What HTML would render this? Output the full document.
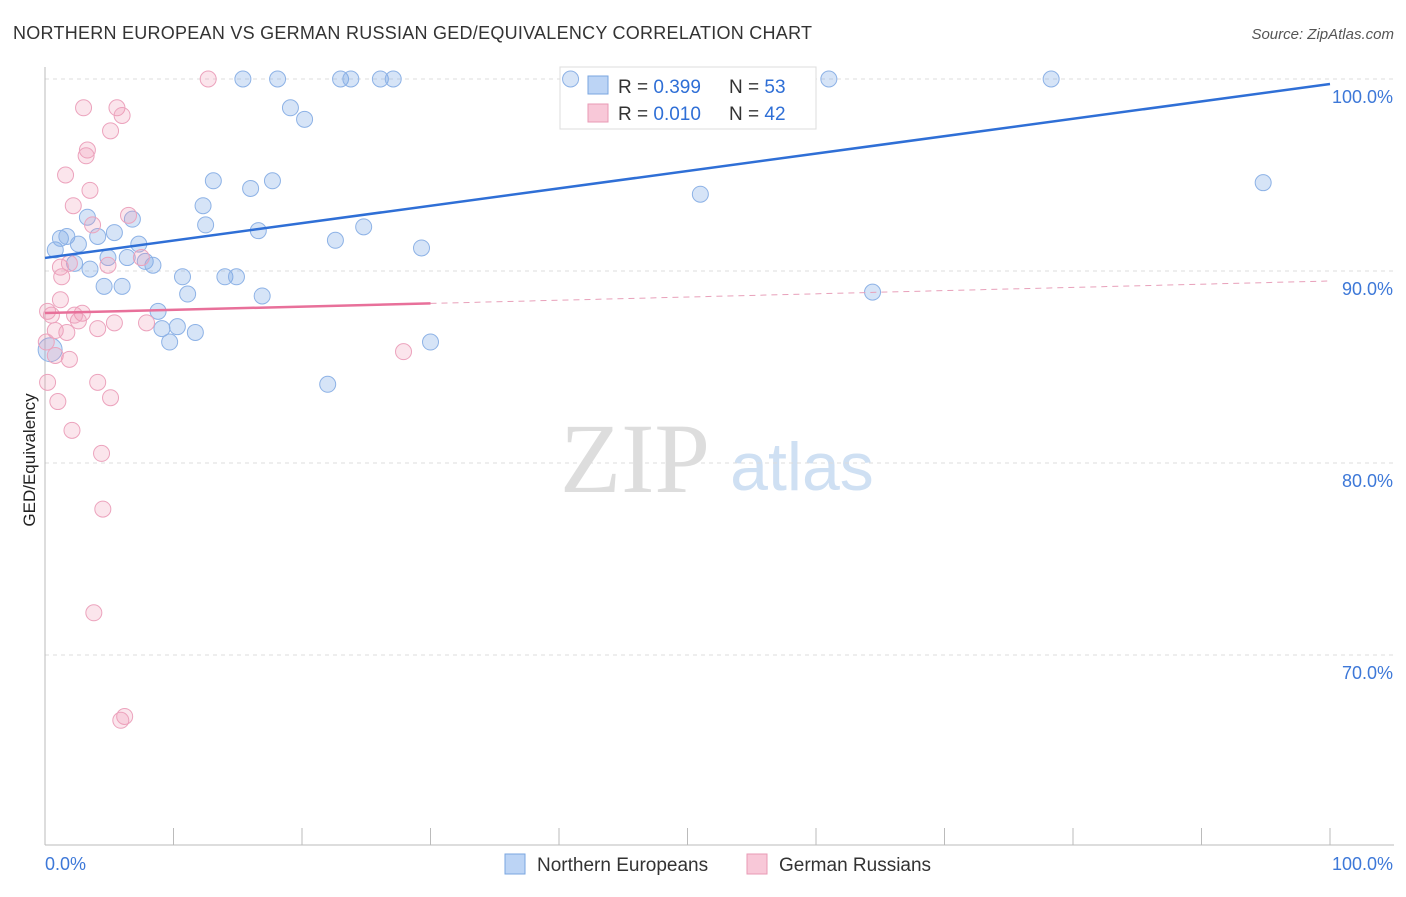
<!DOCTYPE html>
<html><head><meta charset="utf-8"><style>
body{margin:0;background:#fff;font-family:"Liberation Sans",sans-serif}
svg text{font-family:"Liberation Sans",sans-serif}
</style></head><body>
<svg id="chart" width="1406" height="892">
<text x="13" y="39" font-size="18" fill="#333" textLength="799">NORTHERN EUROPEAN VS GERMAN RUSSIAN GED/EQUIVALENCY CORRELATION CHART</text>
<text x="1394" y="39" font-size="15" fill="#555" font-style="italic" text-anchor="end">Source: ZipAtlas.com</text>
<text x="35" y="460" font-size="17" fill="#222" transform="rotate(-90 35 460)" text-anchor="middle">GED/Equivalency</text>
<text x="635" y="492" font-size="100" fill="#ddd" style="font-family:'Liberation Serif',serif" text-anchor="middle">ZIP</text>
<text x="802" y="490" font-size="68" fill="#cfe0f3" text-anchor="middle">atlas</text>
<g id="grid"></g><g id="axes"></g>
<g>
<rect x="560" y="67" width="256" height="62" fill="#fff" stroke="#ddd"/>
<rect x="588" y="76" width="20" height="18" fill="#bcd4f5" stroke="#7aa6e0"/>
<text x="618" y="93" font-size="19" fill="#333">R = <tspan fill="#2f6fd6">0.399</tspan></text>
<text x="729" y="93" font-size="19" fill="#333">N = <tspan fill="#2f6fd6">53</tspan></text>
<rect x="588" y="104" width="20" height="18" fill="#f8c8d8" stroke="#e89ab5"/>
<text x="618" y="120" font-size="19" fill="#333">R = <tspan fill="#2f6fd6">0.010</tspan></text>
<text x="729" y="120" font-size="19" fill="#333">N = <tspan fill="#2f6fd6">42</tspan></text>
</g>
<g id="pts"></g><g id="lines"></g>
<g>
<rect x="505" y="854" width="20" height="20" fill="#bcd4f5" stroke="#7aa6e0"/>
<text x="537" y="871" font-size="19" fill="#333">Northern Europeans</text>
<rect x="747" y="854" width="20" height="20" fill="#f8c8d8" stroke="#e89ab5"/>
<text x="779" y="871" font-size="19" fill="#333">German Russians</text>
</g>
</svg>
<script>
const yTicks=[100,90,80,70];
const xTickLabels=["0.0%","100.0%"];
const blueX=[15.4,18.1,23.0,23.8,26.1,27.1,40.9,61.0,78.3,19.1,20.2,13.1,17.7,16.0,12.3,12.5,3.3,6.8,16.6,24.8,22.6,29.3,0.8,1.2,1.7,2.6,4.1,5.4,7.3,4.9,6.4,7.8,8.4,2.3,3.5,10.7,14.0,14.9,4.6,6.0,11.1,16.9,8.8,9.1,10.3,9.7,11.7,30.0,22.0,51.0,94.8,64.4,0.4];
const blueY=[100,100,100,100,100,100,100,100,100,98.5,97.9,94.7,94.7,94.3,93.4,92.4,92.8,92.7,92.1,92.3,91.6,91.2,91.1,91.7,91.8,91.4,91.8,92.0,91.4,90.7,90.7,90.5,90.3,90.4,90.1,89.7,89.7,89.7,89.2,89.2,88.8,88.7,87.9,87.0,87.1,86.3,86.8,86.3,84.1,94.0,94.6,88.9,85.9];
const pinkX=[12.7,3.0,5.6,6.0,5.1,3.3,3.2,1.6,3.5,2.2,6.5,3.7,1.2,4.9,1.9,1.3,7.5,1.2,0.2,0.5,2.9,2.6,2.3,4.1,5.4,7.9,1.7,0.8,0.8,1.9,27.9,0.2,4.1,1.0,5.1,2.1,4.4,4.5,3.8,6.2,5.9,0.1];
const pinkY=[100,98.5,98.5,98.1,97.3,96.3,96.0,95.0,94.2,93.4,92.9,92.4,90.2,90.3,90.4,89.7,90.7,88.5,87.9,87.7,87.8,87.4,87.7,87.0,87.3,87.3,86.8,86.9,85.6,85.4,85.8,84.2,84.2,83.2,83.4,81.7,80.5,77.6,72.2,66.8,66.6,86.3];
const blueFit=[90.68,99.74];
const pinkFit=[87.81,89.48];
const NS="http://www.w3.org/2000/svg";
const sx=v=>45+v*12.85, sy=v=>79+(100-v)*19.2;
function mk(t,a,p){const e=document.createElementNS(NS,t);for(const k in a)e.setAttribute(k,a[k]);document.getElementById(p).appendChild(e);return e;}
yTicks.forEach(v=>{
 const l=mk('line',{x1:45,x2:1394,y1:sy(v),y2:sy(v),stroke:'#ddd','stroke-dasharray':'4,4'},'grid');
 
 
 const t=mk('text',{x:1393,y:sy(v)+24,'font-size':18,fill:'#3d78d8','text-anchor':'end'},'grid');
 t.textContent=v.toFixed(1)+'%';
 
 
});
let ax=mk('line',{x1:45,x2:1394,y1:845,y2:845,stroke:'#bbb'},'axes');


let ay=mk('line',{x1:45,x2:45,y1:67,y2:845,stroke:'#bbb'},'axes');


for(let i=0;i<=10;i++){const tk=mk('line',{x1:sx(i*10),x2:sx(i*10),y1:828,y2:845,stroke:'#bbb'},'axes');
 
 }
xTickLabels.forEach((s,i)=>{const t=mk('text',{x:i?1393:45,y:870,'font-size':18,fill:'#3d78d8','text-anchor':i?'end':'start'},'axes');t.textContent=s;
 
 });
blueX.forEach((x,i)=>{const c=mk('circle',{cx:sx(x),cy:sy(blueY[i]),r:i==52?12:8,fill:'rgba(120,165,230,0.3)',stroke:'#8db2e6'},'pts');
 
 });
pinkX.forEach((x,i)=>{const c=mk('circle',{cx:sx(x),cy:sy(pinkY[i]),r:8,fill:'rgba(240,150,180,0.25)',stroke:'#eca3bd'},'pts');
 
 });
const bl=mk('line',{x1:sx(0),y1:sy(blueFit[0]),x2:sx(100),y2:sy(blueFit[1]),stroke:'#2f6fd6','stroke-width':2.5},'lines');


const pm=v=>pinkFit[0]+(pinkFit[1]-pinkFit[0])*v/100;
const pl=mk('line',{x1:sx(0),y1:sy(pm(0)),x2:sx(30),y2:sy(pm(30)),stroke:'#e8709a','stroke-width':2.5},'lines');


const pd=mk('line',{x1:sx(30),y1:sy(pm(30)),x2:sx(100),y2:sy(pm(100)),stroke:'#e8a0ba','stroke-width':1,'stroke-dasharray':'6,5'},'lines');


</script>
</body></html>
